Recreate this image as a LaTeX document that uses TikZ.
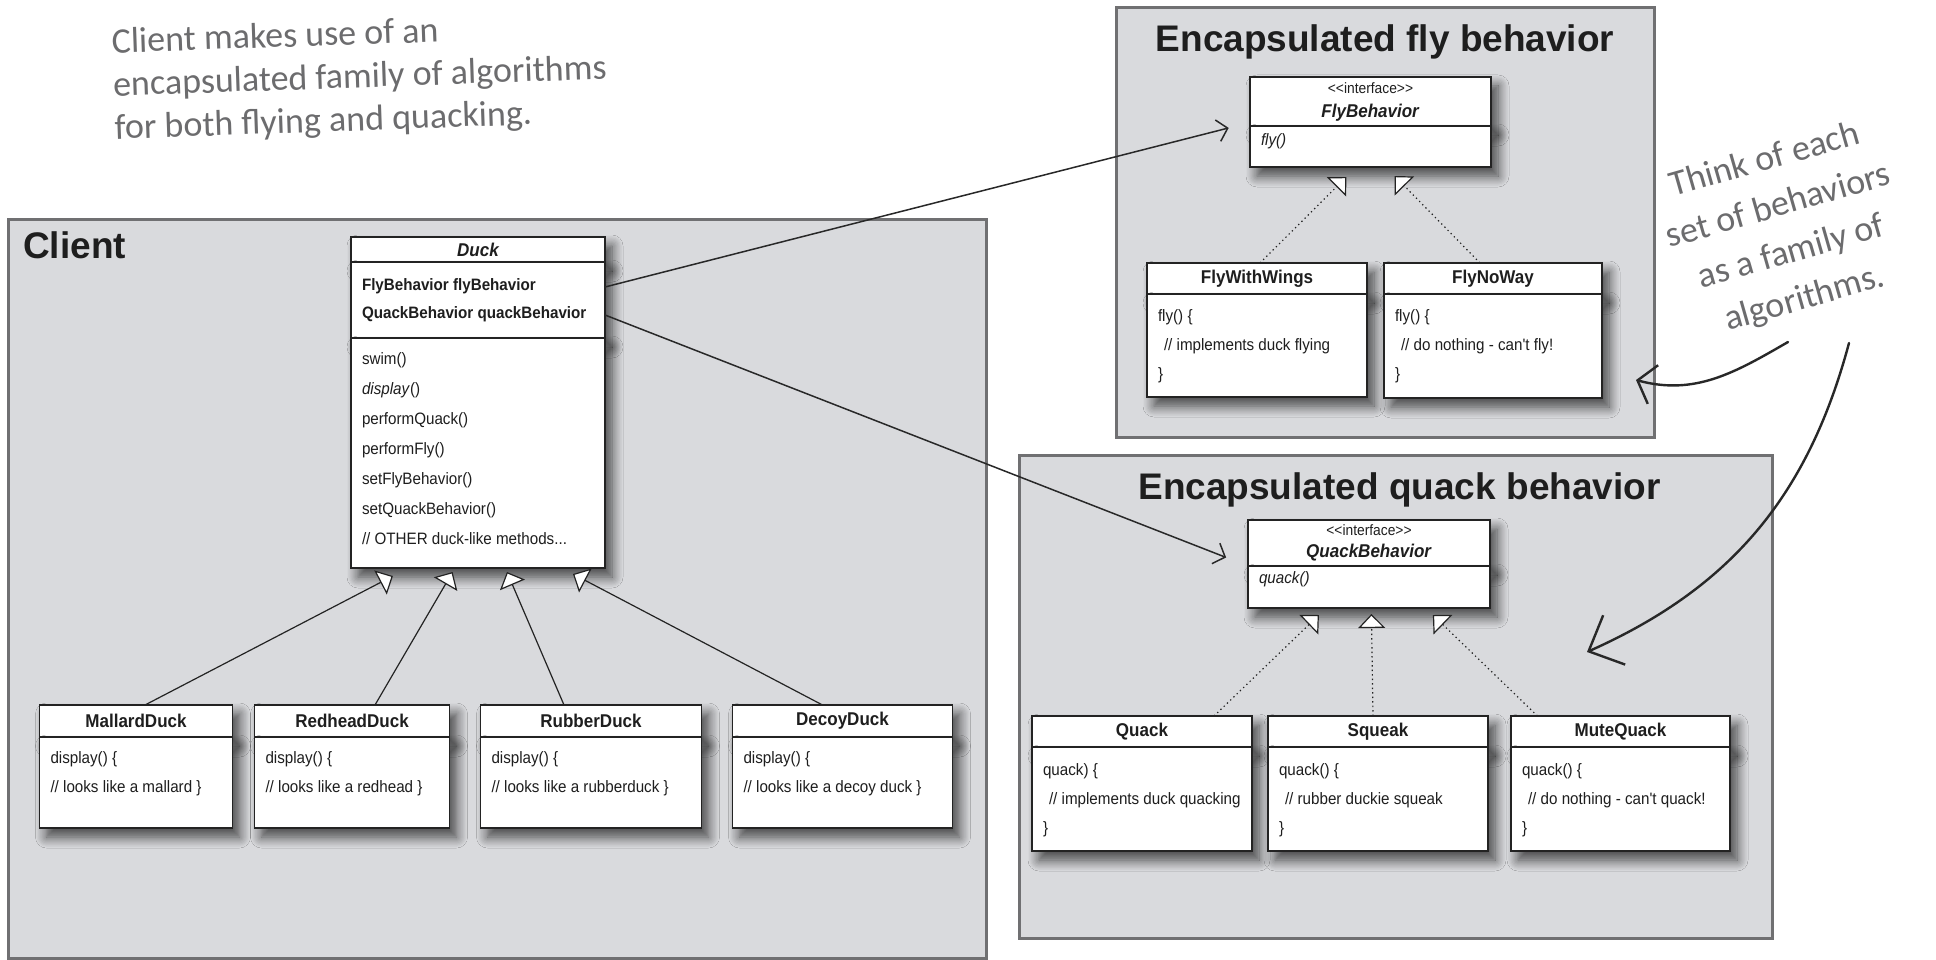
\documentclass[tikz,border=0pt]{standalone}
\usepackage{fontspec}
\setmainfont{Liberation Sans}
\newfontfamily\umlfont[FakeStretch=0.92]{Liberation Sans}
\newfontfamily\handfont{Carlito}
\usetikzlibrary{positioning,calc,arrows.meta,shadows.blur}

\definecolor{groupfill}{RGB}{217,218,221}
\definecolor{groupline}{RGB}{112,112,114}
\definecolor{boxline}{RGB}{35,35,35}
\definecolor{titleink}{RGB}{30,30,30}
\definecolor{notegray}{RGB}{108,108,110}
\definecolor{ink}{RGB}{40,40,40}

% body of a class box: height, width, top gap, lines
\newcommand{\cbody}[4]{\parbox[c][#1][t]{#2}{\vspace*{#3}\raggedright\leftskip=11pt #4}}
\newcommand{\interfacetag}{{\mdseries\fontsize{15}{18}\selectfont <\kern0pt<interface>\kern0pt>}}

\begin{document}
\begin{tikzpicture}[x=1pt,y=-1pt,
  group/.style={draw=groupline,line width=3pt,fill=groupfill,inner sep=0pt,outer sep=0pt,anchor=north west},
  grouptitle/.style={font=\fontsize{37}{40}\selectfont\bfseries,text=titleink,inner sep=0pt},
  classhead/.style={draw=boxline,line width=1.3pt,fill=white,inner sep=0pt,outer sep=0pt,
    font=\umlfont\fontsize{18.5}{22}\selectfont\bfseries,text=titleink,align=center,
    blur shadow={shadow xshift=7pt,shadow yshift=-9pt,shadow blur radius=11pt,shadow blur steps=10,shadow opacity=70}},
  classbody/.style={classhead,font=\umlfont\fontsize{16.5}{29}\selectfont,below=0pt of #1},
  inherit/.style={draw=boxline,line width=1.2pt,-{Triangle[length=14pt,width=27pt,fill=white]}},
  realize/.style={inherit,dash pattern=on 1.3pt off 3.2pt},
  note/.style={font=\handfont\fontsize{36}{43}\selectfont,text=notegray,inner sep=0pt},
  pointer/.style={draw=ink,line width=1.5pt,-{Straight Barb[length=10pt,width=22pt]}},
  handarrow/.style={draw=ink,line width=2.4pt,line cap=round}
]
\fill[white] (0,0) rectangle (1936,960);
\useasboundingbox (0,0) rectangle (1936,960);

% Gruppi
\node[group,minimum width=978pt,minimum height=738pt] (client) at (8,220) {};
\node[group,minimum width=538pt,minimum height=429pt] (flygroup) at (1116,8) {};
\node[group,minimum width=753pt,minimum height=483pt] (quackgroup) at (1019,455) {};

\node[grouptitle,below right=11pt and 15pt of client.north west] (clienttitle) {Client};
\node[grouptitle,below=16pt of flygroup.north] (flytitle) {Encapsulated fly behavior};
\node[grouptitle,below=17pt of quackgroup.north,xshift=4pt] (quacktitle) {Encapsulated quack behavior};

% Duck
\node[classhead,minimum width=254pt,minimum height=25pt,anchor=north west] (duck) at (351,237) {\itshape Duck};
\node[classbody=duck,font=\umlfont\fontsize{16.5}{28}\selectfont\bfseries] (duckattr)
  {\cbody{76pt}{254pt}{17pt}{FlyBehavior flyBehavior\\QuackBehavior quackBehavior}};
\node[classbody=duckattr,font=\umlfont\fontsize{16.5}{30}\selectfont] (duckops)
  {\cbody{230pt}{254pt}{15pt}{swim()\\\textit{display}()\\performQuack()\\performFly()\\setFlyBehavior()\\setQuackBehavior()\\// OTHER duck-like methods...}};

\node[classhead,minimum width=193pt,minimum height=32pt,anchor=north west] (mallard) at (39.5,705) {MallardDuck};
\node[classbody=mallard] (mallardcode) {\cbody{91pt}{193pt}{15pt}{display() \{\\// looks like a mallard \}}};
\node[classhead,minimum width=195pt,minimum height=32pt,right=22pt of mallard] (redhead) {RedheadDuck};
\node[classbody=redhead] (redheadcode) {\cbody{91pt}{195pt}{15pt}{display() \{\\// looks like a redhead \}}};
\node[classhead,minimum width=221pt,minimum height=32pt,right=31pt of redhead] (rubber) {RubberDuck};
\node[classbody=rubber] (rubbercode) {\cbody{91pt}{221pt}{15pt}{display() \{\\// looks like a rubberduck \}}};
\node[classhead,minimum width=220pt,minimum height=32pt,right=31pt of rubber] (decoy) {DecoyDuck};
\node[classbody=decoy] (decoycode) {\cbody{91pt}{220pt}{15pt}{display() \{\\// looks like a decoy duck \}}};

% FlyBehavior
\node[classhead,minimum width=241pt,minimum height=49pt,anchor=north west] (flyif) at (1250,77) {\interfacetag\\[2pt]\textit{FlyBehavior}};
\node[classbody=flyif] (flyifops) {\cbody{41pt}{241pt}{8pt}{\textit{fly()}}};
\node[classhead,minimum width=220pt,minimum height=31pt,anchor=north west] (flywings) at (1147,263) {FlyWithWings};
\node[classbody=flywings] (flywingscode) {\cbody{103pt}{220pt}{16pt}{fly() \{\\\hspace*{6pt}// implements duck flying\\\}}};
\node[classhead,minimum width=218pt,minimum height=31pt,right=17pt of flywings] (flynoway) {FlyNoWay};
\node[classbody=flynoway] (flynowaycode) {\cbody{104pt}{218pt}{16pt}{fly() \{\\\hspace*{6pt}// do nothing - can't fly!\\\}}};

% QuackBehavior
\node[classhead,minimum width=242pt,minimum height=46pt,anchor=north west] (quackif) at (1248,520) {\interfacetag\\\textit{QuackBehavior}};
\node[classbody=quackif] (quackifops) {\cbody{42pt}{242pt}{6pt}{\textit{quack()}}};
\node[classhead,minimum width=220pt,minimum height=31pt,anchor=north west] (quack) at (1032,716) {Quack};
\node[classbody=quack] (quackcode) {\cbody{104pt}{220pt}{17pt}{quack) \{\\\hspace*{6pt}// implements duck quacking\\\}}};
\node[classhead,minimum width=220pt,minimum height=31pt,right=16pt of quack] (squeak) {Squeak};
\node[classbody=squeak] (squeakcode) {\cbody{104pt}{220pt}{17pt}{quack() \{\\\hspace*{6pt}// rubber duckie squeak\\\}}};
\node[classhead,minimum width=219pt,minimum height=31pt,right=23pt of squeak] (mutequack) {MuteQuack};
\node[classbody=mutequack] (mutequackcode) {\cbody{104pt}{219pt}{17pt}{quack() \{\\\hspace*{6pt}// do nothing - can't quack!\\\}}};

% Ereditarieta
\draw[inherit] ([xshift=9pt]mallard.north) -- ($(duckops.south west)!0.165!(duckops.south east)+(0,8)$);
\draw[inherit] ([xshift=23pt]redhead.north) -- ($(duckops.south west)!0.40!(duckops.south east)+(0,4)$);
\draw[inherit] ([xshift=-27pt]rubber.north) -- ($(duckops.south west)!0.614!(duckops.south east)+(0,4)$);
\draw[inherit] ([xshift=-20pt]decoy.north) -- ($(duckops.south west)!0.874!(duckops.south east)+(0,6)$);

\draw[realize] ([xshift=3pt]flywings.north) -- ($(flyifops.south west)!0.40!(flyifops.south east)+(0,10)$);
\draw[realize] ([xshift=-13pt]flynoway.north) -- ($(flyifops.south west)!0.60!(flyifops.south east)+(0,9)$);
\draw[realize] ([xshift=72pt]quack.north) -- ($(quackifops.south west)!0.293!(quackifops.south east)+(0,7)$);
\draw[realize] ([xshift=-5pt]squeak.north) -- ($(quackifops.south west)!0.51!(quackifops.south east)+(0,6)$);
\draw[realize] ([xshift=-83pt]mutequack.north) -- ($(quackifops.south west)!0.764!(quackifops.south east)+(0,7)$);

% Composizione
\draw[pointer,shorten >=22pt] ([yshift=13pt]duckattr.east) -- ([yshift=3.5pt]flyif.south west);
\draw[pointer,shorten >=23.5pt] ([yshift=-15pt]duckattr.east) -- (quackif.south west);

% Note
\node[note,anchor=north west,rotate=2,align=left] (clientnote) at (111,28)
  {Client makes use of an\\encapsulated family of algorithms\\for both flying and quacking.};
\node[note,font=\handfont\fontsize{36}{48}\selectfont,align=center,rotate=16] (thinknote) at (1785,230)
  {Think of each\\set of behaviors\\as a family of\\algorithms.};

\coordinate (thinkleft) at (1788,342);
\coordinate (thinkright) at (1849,343);
\coordinate (flyhint) at (1636,380);
\coordinate (quackhint) at (1587,652);
\draw[handarrow,-{Straight Barb[length=16pt,width=40pt]}] (thinkleft) to[out=210,in=-15] (flyhint);
\draw[handarrow,-{Straight Barb[length=28pt,width=54pt]}] (thinkright) to[out=-105,in=24] (quackhint);

\end{tikzpicture}
\end{document}
